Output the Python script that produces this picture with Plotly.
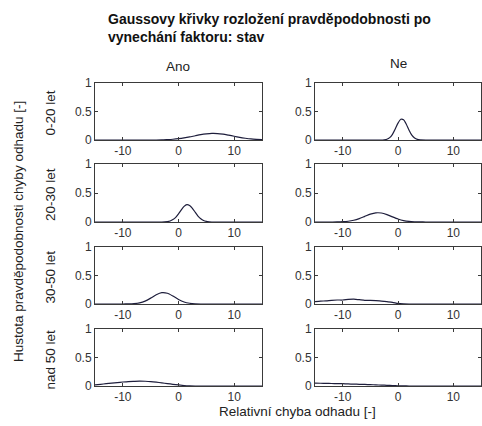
import plotly.graph_objects as go

# ---- data ----
columns = ["Ano", "Ne"]
rows = ["0-20 let", "20-30 let", "30-50 let", "nad 50 let"]
x_ticks = [-10, 0, 10]
x_tick_labels = ["-10", "0", "10"]
y_ticks = [0, 0.5, 1]
y_tick_labels = ["0", "0.5", "1"]

x_wide = [-15, -14, -13, -12, -11, -10, -9, -8, -7, -6, -5, -4, -3, -2, -1, 0,
          1, 2, 3, 4, 5, 6, 7, 8, 9, 10, 11, 12, 13, 14, 15]

ano_0_20 = [0, 0, 0, 0, 0, 0, 0, 0, 0, 0, 0, 0, 0.002, 0.007, 0.013, 0.023,
            0.037, 0.054, 0.074, 0.093, 0.107, 0.115, 0.113, 0.102, 0.085, 0.066,
            0.047, 0.031, 0.018, 0.010, 0.005]

x_ne_0_20 = [-15, -3, -2.5, -2, -1.5, -1, -0.5, 0, 0.5, 1, 1.5, 2, 2.5, 3, 3.5, 4, 15]
ne_0_20 = [0, 0, 0.004, 0.013, 0.041, 0.10, 0.193, 0.296, 0.363, 0.355, 0.277,
           0.172, 0.085, 0.034, 0.010, 0.003, 0]

x_ano_20_30 = [-15, -3, -2.5, -2, -1.5, -1, -0.5, 0, 0.5, 1, 1.5, 2, 2.5, 3, 3.5,
               4, 4.5, 5, 5.5, 6, 15]
ano_20_30 = [0, 0, 0.002, 0.0065, 0.017, 0.041, 0.081, 0.141, 0.21, 0.27, 0.30,
             0.286, 0.236, 0.168, 0.103, 0.055, 0.025, 0.010, 0.003, 0, 0]

ne_20_30 = [0, 0, 0, 0, 0.001, 0.005, 0.013, 0.030, 0.059, 0.097, 0.135, 0.158,
            0.155, 0.128, 0.089, 0.052, 0.025, 0.010, 0.004, 0.001, 0, 0, 0, 0,
            0, 0, 0, 0, 0, 0, 0]

ano_30_50 = [0, 0, 0, 0, 0, 0, 0.0014, 0.006, 0.020, 0.051, 0.103, 0.162, 0.198,
             0.188, 0.139, 0.080, 0.036, 0.013, 0.003, 0, 0, 0, 0, 0, 0, 0, 0, 0,
             0, 0, 0]

ne_30_50 = [0.04, 0.05, 0.055, 0.065, 0.07, 0.07, 0.08, 0.085, 0.075, 0.065, 0.065,
            0.06, 0.05, 0.04, 0.03, 0.01, 0.003, 0, 0, 0, 0, 0, 0, 0, 0, 0, 0, 0,
            0, 0, 0]

ano_nad_50 = [0.02, 0.03, 0.04, 0.05, 0.06, 0.07, 0.078, 0.082, 0.085, 0.083, 0.078,
              0.068, 0.055, 0.042, 0.03, 0.018, 0.008, 0.002, 0, 0, 0, 0, 0, 0, 0,
              0, 0, 0, 0, 0, 0]

ne_nad_50 = [0.05, 0.048, 0.046, 0.044, 0.042, 0.04, 0.036, 0.033, 0.03, 0.027,
             0.024, 0.02, 0.016, 0.012, 0.008, 0.004, 0.001, 0, 0, 0, 0, 0, 0, 0,
             0, 0, 0, 0, 0, 0, 0]

series = [
    [(x_wide, ano_0_20), (x_ne_0_20, ne_0_20)],
    [(x_ano_20_30, ano_20_30), (x_wide, ne_20_30)],
    [(x_wide, ano_30_50), (x_wide, ne_30_50)],
    [(x_wide, ano_nad_50), (x_wide, ne_nad_50)],
]

# ---- layout geometry (pixels) ----
W, H = 482, 426
col_px = [(95, 262), (315, 481)]
row_px = [(83, 140), (164, 222), (247, 304), (329, 386)]

FONT = "Liberation Sans, Arial, sans-serif"
LINE_COLOR = "#1e1e3c"
AX_COLOR = "#3a3a3a"

fig = go.Figure()
layout = {}
idx = 0
for r in range(4):
    for c in range(2):
        idx += 1
        sfx = "" if idx == 1 else str(idx)
        xs, ys = series[r][c]
        fig.add_trace(go.Scatter(x=xs, y=ys, mode="lines",
                                 line=dict(color=LINE_COLOR, width=1.2, shape="spline", smoothing=0.6),
                                 xaxis="x" + sfx, yaxis="y" + sfx, showlegend=False,
                                 hoverinfo="skip"))
        x0, x1 = col_px[c]
        y0, y1 = row_px[r]
        layout["xaxis" + sfx] = dict(
            domain=[x0 / W, x1 / W], anchor="y" + sfx, range=[-15, 15],
            tickvals=x_ticks, ticktext=x_tick_labels, ticks="inside", ticklen=3,
            tickcolor=AX_COLOR, showline=True, linecolor=AX_COLOR, linewidth=1,
            mirror="ticks", showgrid=False, zeroline=False, automargin=False,
            tickfont=dict(family=FONT, size=12, color="#333"),
        )
        layout["yaxis" + sfx] = dict(
            domain=[1 - y1 / H, 1 - y0 / H], anchor="x" + sfx, range=[0, 1],
            tickvals=y_ticks, ticktext=y_tick_labels, ticks="inside", ticklen=3,
            tickcolor=AX_COLOR, showline=True, linecolor=AX_COLOR, linewidth=1,
            mirror="ticks", showgrid=False, zeroline=False, automargin=False,
            tickfont=dict(family=FONT, size=12, color="#333"),
        )


def ann(text, xp, yp, **kw):
    d = dict(text=text, x=xp / W, y=1 - yp / H, xref="paper", yref="paper",
             xanchor="center", yanchor="middle", showarrow=False,
             font=dict(family=FONT, size=13.5, color="#222"))
    d.update(kw)
    return d


annotations = [
    ann("<b>Gaussovy křivky rozložení pravděpodobnosti po<br>vynechání faktoru: stav</b>",
        106, 9, xanchor="left", yanchor="top", align="left",
        font=dict(family=FONT, size=14, color="#111")),
    ann(columns[0], 178, 67),
    ann(columns[1], 398, 63),
    ann("Hustota pravděpodobnosti chyby odhadu [-]", 18, 232, textangle=-90),
    ann("Relativní chyba odhadu [-]", 297, 411),
]
for r, name in enumerate(rows):
    yc = (row_px[r][0] + row_px[r][1]) / 2 + 2
    annotations.append(ann(name, 50, yc, textangle=-90))

fig.update_layout(width=W, height=H, margin=dict(l=0, r=0, t=0, b=0, autoexpand=False),
                  paper_bgcolor="white", plot_bgcolor="white",
                  annotations=annotations, **layout)

fig.write_html("out.html", config={"displayModeBar": False, "staticPlot": True},
               post_script="document.body.style.margin='0';document.body.style.overflow='hidden';")
